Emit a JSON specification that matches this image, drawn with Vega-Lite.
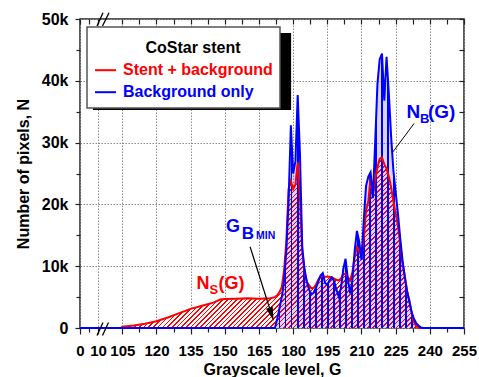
{
"$schema": "https://vega.github.io/schema/vega-lite/v6.json",
"width": 384, "height": 309,
"autosize": {"type": "none"},
"padding": {"left": 80, "top": 19, "right": 15, "bottom": 49},
"background": "white",
"config": {"font": "Liberation Sans", "view": {"stroke": "#222", "strokeWidth": 1.5}},
"datasets": {"d": [
{"G":100,"N":0,"s":"Stent + background"},{"G":105,"N":200,"s":"Stent + background"},{"G":110,"N":400,"s":"Stent + background"},{"G":115,"N":700,"s":"Stent + background"},{"G":120,"N":1100,"s":"Stent + background"},{"G":125,"N":1700,"s":"Stent + background"},{"G":130,"N":2400,"s":"Stent + background"},{"G":135,"N":3100,"s":"Stent + background"},{"G":140,"N":3600,"s":"Stent + background"},{"G":145,"N":4100,"s":"Stent + background"},{"G":148,"N":4600,"s":"Stent + background"},{"G":150,"N":4700,"s":"Stent + background"},{"G":155,"N":4750,"s":"Stent + background"},{"G":160,"N":4800,"s":"Stent + background"},{"G":165,"N":4750,"s":"Stent + background"},{"G":170,"N":4800,"s":"Stent + background"},{"G":172,"N":5000,"s":"Stent + background"},{"G":173,"N":5300,"s":"Stent + background"},{"G":174,"N":5800,"s":"Stent + background"},{"G":175,"N":6600,"s":"Stent + background"},{"G":176,"N":9300,"s":"Stent + background"},{"G":177,"N":14000,"s":"Stent + background"},{"G":178,"N":22500,"s":"Stent + background"},{"G":179,"N":23800,"s":"Stent + background"},{"G":180,"N":22500,"s":"Stent + background"},{"G":181,"N":23200,"s":"Stent + background"},{"G":182,"N":26800,"s":"Stent + background"},{"G":183,"N":21000,"s":"Stent + background"},{"G":184,"N":12500,"s":"Stent + background"},{"G":185,"N":9000,"s":"Stent + background"},{"G":186,"N":7500,"s":"Stent + background"},{"G":187,"N":6900,"s":"Stent + background"},{"G":188,"N":6400,"s":"Stent + background"},{"G":189,"N":6500,"s":"Stent + background"},{"G":190,"N":7000,"s":"Stent + background"},{"G":191,"N":7800,"s":"Stent + background"},{"G":192,"N":8300,"s":"Stent + background"},{"G":193,"N":8400,"s":"Stent + background"},{"G":194,"N":8300,"s":"Stent + background"},{"G":195,"N":8300,"s":"Stent + background"},{"G":196,"N":8300,"s":"Stent + background"},{"G":197,"N":8200,"s":"Stent + background"},{"G":198,"N":8000,"s":"Stent + background"},{"G":199,"N":7800,"s":"Stent + background"},{"G":200,"N":7700,"s":"Stent + background"},{"G":201,"N":8000,"s":"Stent + background"},{"G":202,"N":8700,"s":"Stent + background"},{"G":203,"N":8800,"s":"Stent + background"},{"G":204,"N":8200,"s":"Stent + background"},{"G":205,"N":7700,"s":"Stent + background"},{"G":206,"N":9000,"s":"Stent + background"},{"G":207,"N":11500,"s":"Stent + background"},{"G":208,"N":13100,"s":"Stent + background"},{"G":209,"N":12500,"s":"Stent + background"},{"G":210,"N":11600,"s":"Stent + background"},{"G":211,"N":14500,"s":"Stent + background"},{"G":212,"N":19000,"s":"Stent + background"},{"G":213,"N":20500,"s":"Stent + background"},{"G":214,"N":24500,"s":"Stent + background"},{"G":215,"N":21500,"s":"Stent + background"},{"G":216,"N":24000,"s":"Stent + background"},{"G":217,"N":26000,"s":"Stent + background"},{"G":218,"N":27400,"s":"Stent + background"},{"G":219,"N":27600,"s":"Stent + background"},{"G":220,"N":26500,"s":"Stent + background"},{"G":221,"N":25800,"s":"Stent + background"},{"G":222,"N":24500,"s":"Stent + background"},{"G":223,"N":22800,"s":"Stent + background"},{"G":224,"N":20500,"s":"Stent + background"},{"G":225,"N":18500,"s":"Stent + background"},{"G":226,"N":16500,"s":"Stent + background"},{"G":227,"N":13700,"s":"Stent + background"},{"G":228,"N":10500,"s":"Stent + background"},{"G":229,"N":8500,"s":"Stent + background"},{"G":230,"N":6000,"s":"Stent + background"},{"G":231,"N":4500,"s":"Stent + background"},{"G":232,"N":2500,"s":"Stent + background"},{"G":233,"N":1000,"s":"Stent + background"},{"G":234,"N":300,"s":"Stent + background"},{"G":235,"N":0,"s":"Stent + background"},{"G":255,"N":0,"s":"Stent + background"},
{"G":0,"N":0,"s":"Background only"},{"G":10,"N":0,"s":"Background only"},{"G":105,"N":0,"s":"Background only"},{"G":171,"N":0,"s":"Background only"},{"G":172,"N":0,"s":"Background only"},{"G":173,"N":1500,"s":"Background only"},{"G":174,"N":3200,"s":"Background only"},{"G":175,"N":5000,"s":"Background only"},{"G":176,"N":7500,"s":"Background only"},{"G":177,"N":12500,"s":"Background only"},{"G":178,"N":20700,"s":"Background only"},{"G":179,"N":32800,"s":"Background only"},{"G":180,"N":25000,"s":"Background only"},{"G":181,"N":27000,"s":"Background only"},{"G":182,"N":37700,"s":"Background only"},{"G":183,"N":28000,"s":"Background only"},{"G":184,"N":13000,"s":"Background only"},{"G":185,"N":9500,"s":"Background only"},{"G":186,"N":7500,"s":"Background only"},{"G":187,"N":6200,"s":"Background only"},{"G":188,"N":5500,"s":"Background only"},{"G":189,"N":5700,"s":"Background only"},{"G":190,"N":6500,"s":"Background only"},{"G":191,"N":7500,"s":"Background only"},{"G":192,"N":8500,"s":"Background only"},{"G":193,"N":8900,"s":"Background only"},{"G":194,"N":7300,"s":"Background only"},{"G":195,"N":7000,"s":"Background only"},{"G":196,"N":7800,"s":"Background only"},{"G":197,"N":8200,"s":"Background only"},{"G":198,"N":7600,"s":"Background only"},{"G":199,"N":6200,"s":"Background only"},{"G":200,"N":5100,"s":"Background only"},{"G":201,"N":6500,"s":"Background only"},{"G":202,"N":9500,"s":"Background only"},{"G":203,"N":11200,"s":"Background only"},{"G":204,"N":8000,"s":"Background only"},{"G":205,"N":5600,"s":"Background only"},{"G":206,"N":7800,"s":"Background only"},{"G":207,"N":12500,"s":"Background only"},{"G":208,"N":15700,"s":"Background only"},{"G":209,"N":14000,"s":"Background only"},{"G":210,"N":11000,"s":"Background only"},{"G":211,"N":17500,"s":"Background only"},{"G":212,"N":23000,"s":"Background only"},{"G":213,"N":24500,"s":"Background only"},{"G":214,"N":25200,"s":"Background only"},{"G":215,"N":21000,"s":"Background only"},{"G":216,"N":30000,"s":"Background only"},{"G":217,"N":39500,"s":"Background only"},{"G":218,"N":43500,"s":"Background only"},{"G":219,"N":44400,"s":"Background only"},{"G":220,"N":36800,"s":"Background only"},{"G":221,"N":43900,"s":"Background only"},{"G":222,"N":38000,"s":"Background only"},{"G":223,"N":31000,"s":"Background only"},{"G":224,"N":25500,"s":"Background only"},{"G":225,"N":22000,"s":"Background only"},{"G":226,"N":18500,"s":"Background only"},{"G":227,"N":14500,"s":"Background only"},{"G":228,"N":11000,"s":"Background only"},{"G":229,"N":8200,"s":"Background only"},{"G":230,"N":6000,"s":"Background only"},{"G":231,"N":4300,"s":"Background only"},{"G":232,"N":2600,"s":"Background only"},{"G":233,"N":1500,"s":"Background only"},{"G":234,"N":800,"s":"Background only"},{"G":235,"N":400,"s":"Background only"},{"G":236,"N":100,"s":"Background only"},{"G":237,"N":0,"s":"Background only"},{"G":255,"N":0,"s":"Background only"}
]},
"resolve": {"axis": {"x": "independent", "y": "independent"}},
"layer": [
{"data": {"name": "d"},
 "transform": [{"filter": "datum.s === 'Stent + background' && datum.G >= 100 && datum.G <= 235"}],
 "mark": {"type": "area", "opacity": 1, "interpolate": "linear", "fill": {"gradient": "linear", "x1": 0, "y1": 0, "x2": 1.184, "y2": 0.679, "stops": [
{"offset":0,"color":"#ff0000"},{"offset":0.0035,"color":"#ff0000"},{"offset":0.0035,"color":"#ffffff"},{"offset":0.01,"color":"#ffffff"},
{"offset":0.01,"color":"#ff0000"},{"offset":0.0135,"color":"#ff0000"},{"offset":0.0135,"color":"#ffffff"},{"offset":0.02,"color":"#ffffff"},
{"offset":0.02,"color":"#ff0000"},{"offset":0.0235,"color":"#ff0000"},{"offset":0.0235,"color":"#ffffff"},{"offset":0.03,"color":"#ffffff"},
{"offset":0.03,"color":"#ff0000"},{"offset":0.0335,"color":"#ff0000"},{"offset":0.0335,"color":"#ffffff"},{"offset":0.04,"color":"#ffffff"},
{"offset":0.04,"color":"#ff0000"},{"offset":0.0435,"color":"#ff0000"},{"offset":0.0435,"color":"#ffffff"},{"offset":0.05,"color":"#ffffff"},
{"offset":0.05,"color":"#ff0000"},{"offset":0.0535,"color":"#ff0000"},{"offset":0.0535,"color":"#ffffff"},{"offset":0.06,"color":"#ffffff"},
{"offset":0.06,"color":"#ff0000"},{"offset":0.0635,"color":"#ff0000"},{"offset":0.0635,"color":"#ffffff"},{"offset":0.07,"color":"#ffffff"},
{"offset":0.07,"color":"#ff0000"},{"offset":0.0735,"color":"#ff0000"},{"offset":0.0735,"color":"#ffffff"},{"offset":0.08,"color":"#ffffff"},
{"offset":0.08,"color":"#ff0000"},{"offset":0.0835,"color":"#ff0000"},{"offset":0.0835,"color":"#ffffff"},{"offset":0.09,"color":"#ffffff"},
{"offset":0.09,"color":"#ff0000"},{"offset":0.0935,"color":"#ff0000"},{"offset":0.0935,"color":"#ffffff"},{"offset":0.1,"color":"#ffffff"},
{"offset":0.1,"color":"#ff0000"},{"offset":0.1035,"color":"#ff0000"},{"offset":0.1035,"color":"#ffffff"},{"offset":0.11,"color":"#ffffff"},
{"offset":0.11,"color":"#ff0000"},{"offset":0.1135,"color":"#ff0000"},{"offset":0.1135,"color":"#ffffff"},{"offset":0.12,"color":"#ffffff"},
{"offset":0.12,"color":"#ff0000"},{"offset":0.1235,"color":"#ff0000"},{"offset":0.1235,"color":"#ffffff"},{"offset":0.13,"color":"#ffffff"},
{"offset":0.13,"color":"#ff0000"},{"offset":0.1335,"color":"#ff0000"},{"offset":0.1335,"color":"#ffffff"},{"offset":0.14,"color":"#ffffff"},
{"offset":0.14,"color":"#ff0000"},{"offset":0.1435,"color":"#ff0000"},{"offset":0.1435,"color":"#ffffff"},{"offset":0.15,"color":"#ffffff"},
{"offset":0.15,"color":"#ff0000"},{"offset":0.1535,"color":"#ff0000"},{"offset":0.1535,"color":"#ffffff"},{"offset":0.16,"color":"#ffffff"},
{"offset":0.16,"color":"#ff0000"},{"offset":0.1635,"color":"#ff0000"},{"offset":0.1635,"color":"#ffffff"},{"offset":0.17,"color":"#ffffff"},
{"offset":0.17,"color":"#ff0000"},{"offset":0.1735,"color":"#ff0000"},{"offset":0.1735,"color":"#ffffff"},{"offset":0.18,"color":"#ffffff"},
{"offset":0.18,"color":"#ff0000"},{"offset":0.1835,"color":"#ff0000"},{"offset":0.1835,"color":"#ffffff"},{"offset":0.19,"color":"#ffffff"},
{"offset":0.19,"color":"#ff0000"},{"offset":0.1935,"color":"#ff0000"},{"offset":0.1935,"color":"#ffffff"},{"offset":0.2,"color":"#ffffff"},
{"offset":0.2,"color":"#ff0000"},{"offset":0.2035,"color":"#ff0000"},{"offset":0.2035,"color":"#ffffff"},{"offset":0.21,"color":"#ffffff"},
{"offset":0.21,"color":"#ff0000"},{"offset":0.2135,"color":"#ff0000"},{"offset":0.2135,"color":"#ffffff"},{"offset":0.22,"color":"#ffffff"},
{"offset":0.22,"color":"#ff0000"},{"offset":0.2235,"color":"#ff0000"},{"offset":0.2235,"color":"#ffffff"},{"offset":0.23,"color":"#ffffff"},
{"offset":0.23,"color":"#ff0000"},{"offset":0.2335,"color":"#ff0000"},{"offset":0.2335,"color":"#ffffff"},{"offset":0.24,"color":"#ffffff"},
{"offset":0.24,"color":"#ff0000"},{"offset":0.2435,"color":"#ff0000"},{"offset":0.2435,"color":"#ffffff"},{"offset":0.25,"color":"#ffffff"},
{"offset":0.25,"color":"#ff0000"},{"offset":0.2535,"color":"#ff0000"},{"offset":0.2535,"color":"#ffffff"},{"offset":0.26,"color":"#ffffff"},
{"offset":0.26,"color":"#ff0000"},{"offset":0.2635,"color":"#ff0000"},{"offset":0.2635,"color":"#ffffff"},{"offset":0.27,"color":"#ffffff"},
{"offset":0.27,"color":"#ff0000"},{"offset":0.2735,"color":"#ff0000"},{"offset":0.2735,"color":"#ffffff"},{"offset":0.28,"color":"#ffffff"},
{"offset":0.28,"color":"#ff0000"},{"offset":0.2835,"color":"#ff0000"},{"offset":0.2835,"color":"#ffffff"},{"offset":0.29,"color":"#ffffff"},
{"offset":0.29,"color":"#ff0000"},{"offset":0.2935,"color":"#ff0000"},{"offset":0.2935,"color":"#ffffff"},{"offset":0.3,"color":"#ffffff"},
{"offset":0.3,"color":"#ff0000"},{"offset":0.3035,"color":"#ff0000"},{"offset":0.3035,"color":"#ffffff"},{"offset":0.31,"color":"#ffffff"},
{"offset":0.31,"color":"#ff0000"},{"offset":0.3135,"color":"#ff0000"},{"offset":0.3135,"color":"#ffffff"},{"offset":0.32,"color":"#ffffff"},
{"offset":0.32,"color":"#ff0000"},{"offset":0.3235,"color":"#ff0000"},{"offset":0.3235,"color":"#ffffff"},{"offset":0.33,"color":"#ffffff"},
{"offset":0.33,"color":"#ff0000"},{"offset":0.3335,"color":"#ff0000"},{"offset":0.3335,"color":"#ffffff"},{"offset":0.34,"color":"#ffffff"},
{"offset":0.34,"color":"#ff0000"},{"offset":0.3435,"color":"#ff0000"},{"offset":0.3435,"color":"#ffffff"},{"offset":0.35,"color":"#ffffff"},
{"offset":0.35,"color":"#ff0000"},{"offset":0.3535,"color":"#ff0000"},{"offset":0.3535,"color":"#ffffff"},{"offset":0.36,"color":"#ffffff"},
{"offset":0.36,"color":"#ff0000"},{"offset":0.3635,"color":"#ff0000"},{"offset":0.3635,"color":"#ffffff"},{"offset":0.37,"color":"#ffffff"},
{"offset":0.37,"color":"#ff0000"},{"offset":0.3735,"color":"#ff0000"},{"offset":0.3735,"color":"#ffffff"},{"offset":0.38,"color":"#ffffff"},
{"offset":0.38,"color":"#ff0000"},{"offset":0.3835,"color":"#ff0000"},{"offset":0.3835,"color":"#ffffff"},{"offset":0.39,"color":"#ffffff"},
{"offset":0.39,"color":"#ff0000"},{"offset":0.3935,"color":"#ff0000"},{"offset":0.3935,"color":"#ffffff"},{"offset":0.4,"color":"#ffffff"},
{"offset":0.4,"color":"#ff0000"},{"offset":0.4035,"color":"#ff0000"},{"offset":0.4035,"color":"#ffffff"},{"offset":0.41,"color":"#ffffff"},
{"offset":0.41,"color":"#ff0000"},{"offset":0.4135,"color":"#ff0000"},{"offset":0.4135,"color":"#ffffff"},{"offset":0.42,"color":"#ffffff"},
{"offset":0.42,"color":"#ff0000"},{"offset":0.4235,"color":"#ff0000"},{"offset":0.4235,"color":"#ffffff"},{"offset":0.43,"color":"#ffffff"},
{"offset":0.43,"color":"#ff0000"},{"offset":0.4335,"color":"#ff0000"},{"offset":0.4335,"color":"#ffffff"},{"offset":0.44,"color":"#ffffff"},
{"offset":0.44,"color":"#ff0000"},{"offset":0.4435,"color":"#ff0000"},{"offset":0.4435,"color":"#ffffff"},{"offset":0.45,"color":"#ffffff"},
{"offset":0.45,"color":"#ff0000"},{"offset":0.4535,"color":"#ff0000"},{"offset":0.4535,"color":"#ffffff"},{"offset":0.46,"color":"#ffffff"},
{"offset":0.46,"color":"#ff0000"},{"offset":0.4635,"color":"#ff0000"},{"offset":0.4635,"color":"#ffffff"},{"offset":0.47,"color":"#ffffff"},
{"offset":0.47,"color":"#ff0000"},{"offset":0.4735,"color":"#ff0000"},{"offset":0.4735,"color":"#ffffff"},{"offset":0.48,"color":"#ffffff"},
{"offset":0.48,"color":"#ff0000"},{"offset":0.4835,"color":"#ff0000"},{"offset":0.4835,"color":"#ffffff"},{"offset":0.49,"color":"#ffffff"},
{"offset":0.49,"color":"#ff0000"},{"offset":0.4935,"color":"#ff0000"},{"offset":0.4935,"color":"#ffffff"},{"offset":0.5,"color":"#ffffff"},
{"offset":0.5,"color":"#ff0000"},{"offset":0.5035,"color":"#ff0000"},{"offset":0.5035,"color":"#ffffff"},{"offset":0.51,"color":"#ffffff"},
{"offset":0.51,"color":"#ff0000"},{"offset":0.5135,"color":"#ff0000"},{"offset":0.5135,"color":"#ffffff"},{"offset":0.52,"color":"#ffffff"},
{"offset":0.52,"color":"#ff0000"},{"offset":0.5235,"color":"#ff0000"},{"offset":0.5235,"color":"#ffffff"},{"offset":0.53,"color":"#ffffff"},
{"offset":0.53,"color":"#ff0000"},{"offset":0.5335,"color":"#ff0000"},{"offset":0.5335,"color":"#ffffff"},{"offset":0.54,"color":"#ffffff"},
{"offset":0.54,"color":"#ff0000"},{"offset":0.5435,"color":"#ff0000"},{"offset":0.5435,"color":"#ffffff"},{"offset":0.55,"color":"#ffffff"},
{"offset":0.55,"color":"#ff0000"},{"offset":0.5535,"color":"#ff0000"},{"offset":0.5535,"color":"#ffffff"},{"offset":0.56,"color":"#ffffff"},
{"offset":0.56,"color":"#ff0000"},{"offset":0.5635,"color":"#ff0000"},{"offset":0.5635,"color":"#ffffff"},{"offset":0.57,"color":"#ffffff"},
{"offset":0.57,"color":"#ff0000"},{"offset":0.5735,"color":"#ff0000"},{"offset":0.5735,"color":"#ffffff"},{"offset":0.58,"color":"#ffffff"},
{"offset":0.58,"color":"#ff0000"},{"offset":0.5835,"color":"#ff0000"},{"offset":0.5835,"color":"#ffffff"},{"offset":0.59,"color":"#ffffff"},
{"offset":0.59,"color":"#ff0000"},{"offset":0.5935,"color":"#ff0000"},{"offset":0.5935,"color":"#ffffff"},{"offset":0.6,"color":"#ffffff"},
{"offset":0.6,"color":"#ff0000"},{"offset":0.6035,"color":"#ff0000"},{"offset":0.6035,"color":"#ffffff"},{"offset":0.61,"color":"#ffffff"},
{"offset":0.61,"color":"#ff0000"},{"offset":0.6135,"color":"#ff0000"},{"offset":0.6135,"color":"#ffffff"},{"offset":0.62,"color":"#ffffff"},
{"offset":0.62,"color":"#ff0000"},{"offset":0.6235,"color":"#ff0000"},{"offset":0.6235,"color":"#ffffff"},{"offset":0.63,"color":"#ffffff"},
{"offset":0.63,"color":"#ff0000"},{"offset":0.6335,"color":"#ff0000"},{"offset":0.6335,"color":"#ffffff"},{"offset":0.64,"color":"#ffffff"},
{"offset":0.64,"color":"#ff0000"},{"offset":0.6435,"color":"#ff0000"},{"offset":0.6435,"color":"#ffffff"},{"offset":0.65,"color":"#ffffff"},
{"offset":0.65,"color":"#ff0000"},{"offset":0.6535,"color":"#ff0000"},{"offset":0.6535,"color":"#ffffff"},{"offset":0.66,"color":"#ffffff"},
{"offset":0.66,"color":"#ff0000"},{"offset":0.6635,"color":"#ff0000"},{"offset":0.6635,"color":"#ffffff"},{"offset":0.67,"color":"#ffffff"},
{"offset":0.67,"color":"#ff0000"},{"offset":0.6735,"color":"#ff0000"},{"offset":0.6735,"color":"#ffffff"},{"offset":0.68,"color":"#ffffff"},
{"offset":0.68,"color":"#ff0000"},{"offset":0.6835,"color":"#ff0000"},{"offset":0.6835,"color":"#ffffff"},{"offset":0.69,"color":"#ffffff"},
{"offset":0.69,"color":"#ff0000"},{"offset":0.6935,"color":"#ff0000"},{"offset":0.6935,"color":"#ffffff"},{"offset":0.7,"color":"#ffffff"},
{"offset":0.7,"color":"#ff0000"},{"offset":0.7035,"color":"#ff0000"},{"offset":0.7035,"color":"#ffffff"},{"offset":0.71,"color":"#ffffff"},
{"offset":0.71,"color":"#ff0000"},{"offset":0.7135,"color":"#ff0000"},{"offset":0.7135,"color":"#ffffff"},{"offset":0.72,"color":"#ffffff"},
{"offset":0.72,"color":"#ff0000"},{"offset":0.7235,"color":"#ff0000"},{"offset":0.7235,"color":"#ffffff"},{"offset":0.73,"color":"#ffffff"},
{"offset":0.73,"color":"#ff0000"},{"offset":0.7335,"color":"#ff0000"},{"offset":0.7335,"color":"#ffffff"},{"offset":0.74,"color":"#ffffff"},
{"offset":0.74,"color":"#ff0000"},{"offset":0.7435,"color":"#ff0000"},{"offset":0.7435,"color":"#ffffff"},{"offset":0.75,"color":"#ffffff"},
{"offset":0.75,"color":"#ff0000"},{"offset":0.7535,"color":"#ff0000"},{"offset":0.7535,"color":"#ffffff"},{"offset":0.76,"color":"#ffffff"},
{"offset":0.76,"color":"#ff0000"},{"offset":0.7635,"color":"#ff0000"},{"offset":0.7635,"color":"#ffffff"},{"offset":0.77,"color":"#ffffff"},
{"offset":0.77,"color":"#ff0000"},{"offset":0.7735,"color":"#ff0000"},{"offset":0.7735,"color":"#ffffff"},{"offset":0.78,"color":"#ffffff"},
{"offset":0.78,"color":"#ff0000"},{"offset":0.7835,"color":"#ff0000"},{"offset":0.7835,"color":"#ffffff"},{"offset":0.79,"color":"#ffffff"},
{"offset":0.79,"color":"#ff0000"},{"offset":0.7935,"color":"#ff0000"},{"offset":0.7935,"color":"#ffffff"},{"offset":0.8,"color":"#ffffff"},
{"offset":0.8,"color":"#ff0000"},{"offset":0.8035,"color":"#ff0000"},{"offset":0.8035,"color":"#ffffff"},{"offset":0.81,"color":"#ffffff"},
{"offset":0.81,"color":"#ff0000"},{"offset":0.8135,"color":"#ff0000"},{"offset":0.8135,"color":"#ffffff"},{"offset":0.82,"color":"#ffffff"},
{"offset":0.82,"color":"#ff0000"},{"offset":0.8235,"color":"#ff0000"},{"offset":0.8235,"color":"#ffffff"},{"offset":0.83,"color":"#ffffff"},
{"offset":0.83,"color":"#ff0000"},{"offset":0.8335,"color":"#ff0000"},{"offset":0.8335,"color":"#ffffff"},{"offset":0.84,"color":"#ffffff"},
{"offset":0.84,"color":"#ff0000"},{"offset":0.8435,"color":"#ff0000"},{"offset":0.8435,"color":"#ffffff"},{"offset":0.85,"color":"#ffffff"},
{"offset":0.85,"color":"#ff0000"},{"offset":0.8535,"color":"#ff0000"},{"offset":0.8535,"color":"#ffffff"},{"offset":0.86,"color":"#ffffff"},
{"offset":0.86,"color":"#ff0000"},{"offset":0.8635,"color":"#ff0000"},{"offset":0.8635,"color":"#ffffff"},{"offset":0.87,"color":"#ffffff"},
{"offset":0.87,"color":"#ff0000"},{"offset":0.8735,"color":"#ff0000"},{"offset":0.8735,"color":"#ffffff"},{"offset":0.88,"color":"#ffffff"},
{"offset":0.88,"color":"#ff0000"},{"offset":0.8835,"color":"#ff0000"},{"offset":0.8835,"color":"#ffffff"},{"offset":0.89,"color":"#ffffff"},
{"offset":0.89,"color":"#ff0000"},{"offset":0.8935,"color":"#ff0000"},{"offset":0.8935,"color":"#ffffff"},{"offset":0.9,"color":"#ffffff"},
{"offset":0.9,"color":"#ff0000"},{"offset":0.9035,"color":"#ff0000"},{"offset":0.9035,"color":"#ffffff"},{"offset":0.91,"color":"#ffffff"},
{"offset":0.91,"color":"#ff0000"},{"offset":0.9135,"color":"#ff0000"},{"offset":0.9135,"color":"#ffffff"},{"offset":0.92,"color":"#ffffff"},
{"offset":0.92,"color":"#ff0000"},{"offset":0.9235,"color":"#ff0000"},{"offset":0.9235,"color":"#ffffff"},{"offset":0.93,"color":"#ffffff"},
{"offset":0.93,"color":"#ff0000"},{"offset":0.9335,"color":"#ff0000"},{"offset":0.9335,"color":"#ffffff"},{"offset":0.94,"color":"#ffffff"},
{"offset":0.94,"color":"#ff0000"},{"offset":0.9435,"color":"#ff0000"},{"offset":0.9435,"color":"#ffffff"},{"offset":0.95,"color":"#ffffff"},
{"offset":0.95,"color":"#ff0000"},{"offset":0.9535,"color":"#ff0000"},{"offset":0.9535,"color":"#ffffff"},{"offset":0.96,"color":"#ffffff"},
{"offset":0.96,"color":"#ff0000"},{"offset":0.9635,"color":"#ff0000"},{"offset":0.9635,"color":"#ffffff"},{"offset":0.97,"color":"#ffffff"},
{"offset":0.97,"color":"#ff0000"},{"offset":0.9735,"color":"#ff0000"},{"offset":0.9735,"color":"#ffffff"},{"offset":0.98,"color":"#ffffff"},
{"offset":0.98,"color":"#ff0000"},{"offset":0.9835,"color":"#ff0000"},{"offset":0.9835,"color":"#ffffff"},{"offset":0.99,"color":"#ffffff"},
{"offset":0.99,"color":"#ff0000"},{"offset":0.9935,"color":"#ff0000"},{"offset":0.9935,"color":"#ffffff"},{"offset":1,"color":"#ffffff"}
 ]}},
 "encoding": {
  "x": {"field": "G", "type": "quantitative", "scale": {"domain": [0, 10, 105, 255], "range": [0, 18, 42.3, 384], "nice": false, "zero": false},
   "axis": {"orient": "bottom", "values": [0,10,105,120,135,150,165,180,195,210,225,240,255], "format": "d", "title": "Grayscale level, G", "titleFontSize": 16, "titleFontWeight": "bold", "titleColor": "black", "titlePadding": 3, "labelFontSize": 15, "labelFontWeight": "bold", "labelColor": "black", "labelPadding": 9, "labelOverlap": false, "labelFlush": false, "labelBound": false, "tickSize": 6, "tickColor": "#222", "tickWidth": 1.2, "domain": false, "grid": true, "gridColor": "#8a8a8a", "gridDash": [1.5, 1.5], "gridWidth": 1}},
  "y": {"field": "N", "type": "quantitative", "stack": null, "scale": {"domain": [0, 50000], "nice": false},
   "axis": {"orient": "left", "values": [0,10000,20000,30000,40000,50000], "labelExpr": "datum.value === 0 ? '0' : (datum.value / 1000) + 'k'", "title": "Number of pixels, N", "titleFontSize": 16, "titleFontWeight": "bold", "titleColor": "black", "titlePadding": 10, "labelFontSize": 16, "labelFontWeight": "bold", "labelColor": "black", "labelPadding": 7, "labelFlush": false, "tickSize": 5, "tickColor": "#222", "tickWidth": 1.2, "domain": false, "grid": true, "gridColor": "#8a8a8a", "gridDash": [1.5, 1.5], "gridWidth": 1}}
 }},
{"data": {"name": "d"},
 "transform": [{"filter": "datum.s === 'Background only' && datum.G >= 171 && datum.G <= 237"}],
 "mark": {"type": "area", "opacity": 1, "interpolate": "linear", "fill": {"gradient": "linear", "x1": 0, "y1": 0, "x2": 1, "y2": 0, "stops": [
{"offset":0,"color":"#0000ff"},{"offset":0.012,"color":"#0000ff"},{"offset":0.012,"color":"rgba(60,40,230,0.2)"},{"offset":0.04,"color":"rgba(60,40,230,0.2)"},
{"offset":0.04,"color":"#0000ff"},{"offset":0.052,"color":"#0000ff"},{"offset":0.052,"color":"rgba(60,40,230,0.2)"},{"offset":0.08,"color":"rgba(60,40,230,0.2)"},
{"offset":0.08,"color":"#0000ff"},{"offset":0.092,"color":"#0000ff"},{"offset":0.092,"color":"rgba(60,40,230,0.2)"},{"offset":0.12,"color":"rgba(60,40,230,0.2)"},
{"offset":0.12,"color":"#0000ff"},{"offset":0.132,"color":"#0000ff"},{"offset":0.132,"color":"rgba(60,40,230,0.2)"},{"offset":0.16,"color":"rgba(60,40,230,0.2)"},
{"offset":0.16,"color":"#0000ff"},{"offset":0.172,"color":"#0000ff"},{"offset":0.172,"color":"rgba(60,40,230,0.2)"},{"offset":0.2,"color":"rgba(60,40,230,0.2)"},
{"offset":0.2,"color":"#0000ff"},{"offset":0.212,"color":"#0000ff"},{"offset":0.212,"color":"rgba(60,40,230,0.2)"},{"offset":0.24,"color":"rgba(60,40,230,0.2)"},
{"offset":0.24,"color":"#0000ff"},{"offset":0.252,"color":"#0000ff"},{"offset":0.252,"color":"rgba(60,40,230,0.2)"},{"offset":0.28,"color":"rgba(60,40,230,0.2)"},
{"offset":0.28,"color":"#0000ff"},{"offset":0.292,"color":"#0000ff"},{"offset":0.292,"color":"rgba(60,40,230,0.2)"},{"offset":0.32,"color":"rgba(60,40,230,0.2)"},
{"offset":0.32,"color":"#0000ff"},{"offset":0.332,"color":"#0000ff"},{"offset":0.332,"color":"rgba(60,40,230,0.2)"},{"offset":0.36,"color":"rgba(60,40,230,0.2)"},
{"offset":0.36,"color":"#0000ff"},{"offset":0.372,"color":"#0000ff"},{"offset":0.372,"color":"rgba(60,40,230,0.2)"},{"offset":0.4,"color":"rgba(60,40,230,0.2)"},
{"offset":0.4,"color":"#0000ff"},{"offset":0.412,"color":"#0000ff"},{"offset":0.412,"color":"rgba(60,40,230,0.2)"},{"offset":0.44,"color":"rgba(60,40,230,0.2)"},
{"offset":0.44,"color":"#0000ff"},{"offset":0.452,"color":"#0000ff"},{"offset":0.452,"color":"rgba(60,40,230,0.2)"},{"offset":0.48,"color":"rgba(60,40,230,0.2)"},
{"offset":0.48,"color":"#0000ff"},{"offset":0.492,"color":"#0000ff"},{"offset":0.492,"color":"rgba(60,40,230,0.2)"},{"offset":0.52,"color":"rgba(60,40,230,0.2)"},
{"offset":0.52,"color":"#0000ff"},{"offset":0.532,"color":"#0000ff"},{"offset":0.532,"color":"rgba(60,40,230,0.2)"},{"offset":0.56,"color":"rgba(60,40,230,0.2)"},
{"offset":0.56,"color":"#0000ff"},{"offset":0.572,"color":"#0000ff"},{"offset":0.572,"color":"rgba(60,40,230,0.2)"},{"offset":0.6,"color":"rgba(60,40,230,0.2)"},
{"offset":0.6,"color":"#0000ff"},{"offset":0.612,"color":"#0000ff"},{"offset":0.612,"color":"rgba(60,40,230,0.2)"},{"offset":0.64,"color":"rgba(60,40,230,0.2)"},
{"offset":0.64,"color":"#0000ff"},{"offset":0.652,"color":"#0000ff"},{"offset":0.652,"color":"rgba(60,40,230,0.2)"},{"offset":0.68,"color":"rgba(60,40,230,0.2)"},
{"offset":0.68,"color":"#0000ff"},{"offset":0.692,"color":"#0000ff"},{"offset":0.692,"color":"rgba(60,40,230,0.2)"},{"offset":0.72,"color":"rgba(60,40,230,0.2)"},
{"offset":0.72,"color":"#0000ff"},{"offset":0.732,"color":"#0000ff"},{"offset":0.732,"color":"rgba(60,40,230,0.2)"},{"offset":0.76,"color":"rgba(60,40,230,0.2)"},
{"offset":0.76,"color":"#0000ff"},{"offset":0.772,"color":"#0000ff"},{"offset":0.772,"color":"rgba(60,40,230,0.2)"},{"offset":0.8,"color":"rgba(60,40,230,0.2)"},
{"offset":0.8,"color":"#0000ff"},{"offset":0.812,"color":"#0000ff"},{"offset":0.812,"color":"rgba(60,40,230,0.2)"},{"offset":0.84,"color":"rgba(60,40,230,0.2)"},
{"offset":0.84,"color":"#0000ff"},{"offset":0.852,"color":"#0000ff"},{"offset":0.852,"color":"rgba(60,40,230,0.2)"},{"offset":0.88,"color":"rgba(60,40,230,0.2)"},
{"offset":0.88,"color":"#0000ff"},{"offset":0.892,"color":"#0000ff"},{"offset":0.892,"color":"rgba(60,40,230,0.2)"},{"offset":0.92,"color":"rgba(60,40,230,0.2)"},
{"offset":0.92,"color":"#0000ff"},{"offset":0.932,"color":"#0000ff"},{"offset":0.932,"color":"rgba(60,40,230,0.2)"},{"offset":0.96,"color":"rgba(60,40,230,0.2)"},
{"offset":0.96,"color":"#0000ff"},{"offset":0.972,"color":"#0000ff"},{"offset":0.972,"color":"rgba(60,40,230,0.2)"},{"offset":1,"color":"rgba(60,40,230,0.2)"}
 ]}},
 "encoding": {
  "x": {"field": "G", "type": "quantitative", "axis": {"orient": "top", "values": [0,5,10,105,112.5,120,127.5,135,142.5,150,157.5,165,172.5,180,187.5,195,202.5,210,217.5,225,232.5,240,247.5,255], "tickSize": -5, "tickColor": "#222", "tickWidth": 1.2, "labels": false, "domain": false, "grid": false, "title": null}},
  "y": {"field": "N", "type": "quantitative", "stack": null, "axis": {"orient": "right", "values": [0,5000,10000,15000,20000,25000,30000,35000,40000,45000,50000], "tickSize": -5, "tickColor": "#222", "tickWidth": 1.2, "labels": false, "domain": false, "grid": false, "title": null}}
 }},
{"data": {"name": "d"},
 "mark": {"type": "line", "strokeWidth": 2, "interpolate": "linear"},
 "encoding": {
  "x": {"field": "G", "type": "quantitative", "axis": {"orient": "bottom", "values": [5,112.5,127.5,142.5,157.5,172.5,187.5,202.5,217.5,232.5,247.5], "tickSize": 4, "tickColor": "#222", "tickWidth": 1.2, "labels": false, "domain": false, "grid": false, "title": null}},
  "y": {"field": "N", "type": "quantitative", "axis": {"orient": "left", "values": [5000,15000,25000,35000,45000], "tickSize": 4, "tickColor": "#222", "tickWidth": 1.2, "labels": false, "domain": false, "grid": false, "title": null}},
  "color": {"field": "s", "type": "nominal", "scale": {"domain": ["Stent + background", "Background only"], "range": ["#ff0000", "#0000ff"]},
   "legend": {"title": "CoStar stent", "orient": "none", "legendX": 7, "legendY": 8, "direction": "vertical", "symbolType": "stroke", "symbolSize": 441, "symbolStrokeWidth": 2, "labelFontSize": 16, "labelFontWeight": "bold", "titleFontSize": 16, "titleFontWeight": "bold", "titleColor": "black", "titleAnchor": "middle", "titlePadding": 8.7, "padding": 7, "labelOffset": 6, "rowPadding": 2, "strokeColor": "#555", "fillColor": "white", "labelExpr": "datum.label + '   '",
    "encode": {"labels": {"update": {"fill": {"signal": "datum.value === 'Stent + background' ? '#ff0000' : '#0000ff'"}}}, "title": {"update": {"dx": {"value": 10}, "dy": {"value": 6}}}, "legend": {"update": {"strokeWidth": {"value": 1.5}}}}}}
 }},
{"data": {"values": [{}]}, "mark": {"type": "rect", "color": "black"},
 "encoding": {"x": {"datum": 7.2, "axis": null}, "x2": {"datum": 179.1}, "y": {"datum": 47735, "axis": null}, "y2": {"datum": 35270}}},
{"data": {"values": [{}]}, "mark": {"type": "rule", "color": "black", "strokeWidth": 1.3},
 "encoding": {"x": {"datum": 9.44, "axis": null}, "x2": {"datum": 29.5}, "y": {"datum": -1213, "axis": null}, "y2": {"datum": 890}}},
{"data": {"values": [{}]}, "mark": {"type": "rule", "color": "black", "strokeWidth": 1.3},
 "encoding": {"x": {"datum": 27.6, "axis": null}, "x2": {"datum": 51.0}, "y": {"datum": -1213, "axis": null}, "y2": {"datum": 890}}},
{"data": {"values": [{}]}, "mark": {"type": "rule", "color": "black", "strokeWidth": 1.3},
 "encoding": {"x": {"datum": 9.44, "axis": null}, "x2": {"datum": 29.5}, "y": {"datum": 48864, "axis": null}, "y2": {"datum": 51016}}},
{"data": {"values": [{}]}, "mark": {"type": "rule", "color": "black", "strokeWidth": 1.3},
 "encoding": {"x": {"datum": 27.6, "axis": null}, "x2": {"datum": 53.0}, "y": {"datum": 48864, "axis": null}, "y2": {"datum": 51016}}},
{"data": {"values": [{}]}, "mark": {"type": "rule", "color": "black", "strokeWidth": 1},
 "encoding": {"x": {"datum": 233.1, "axis": null}, "x2": {"datum": 223.8}, "y": {"datum": 33100, "axis": null}, "y2": {"datum": 28500}}},
{"data": {"values": [{}]}, "mark": {"type": "rule", "color": "black", "strokeWidth": 1.2},
 "encoding": {"x": {"datum": 161.1, "axis": null}, "x2": {"datum": 170.5}, "y": {"datum": 13154, "axis": null}, "y2": {"datum": 2217}}},
{"data": {"values": [{}]}, "mark": {"type": "point", "shape": "M0,1L-0.5,-1L0.5,-1Z", "filled": true, "color": "black", "opacity": 1, "size": 196, "angle": 342},
 "encoding": {"x": {"datum": 170.5, "axis": null}, "y": {"datum": 2217, "axis": null}}},
{"data": {"values": [{}]}, "mark": {"type": "text", "text": "N", "align": "left", "baseline": "alphabetic", "fontSize": 18, "fontWeight": "bold", "color": "#ff0000"},
 "encoding": {"x": {"datum": 137.6, "axis": null}, "y": {"datum": 6310, "axis": null}}},
{"data": {"values": [{}]}, "mark": {"type": "text", "text": "S", "align": "left", "baseline": "alphabetic", "fontSize": 13, "fontWeight": "bold", "color": "#ff0000"},
 "encoding": {"x": {"datum": 143.3, "axis": null}, "y": {"datum": 5500, "axis": null}}},
{"data": {"values": [{}]}, "mark": {"type": "text", "text": "(G)", "align": "left", "baseline": "alphabetic", "fontSize": 18, "fontWeight": "bold", "color": "#ff0000"},
 "encoding": {"x": {"datum": 147.2, "axis": null}, "y": {"datum": 6310, "axis": null}}},
{"data": {"values": [{}]}, "mark": {"type": "text", "text": "N", "align": "left", "baseline": "alphabetic", "fontSize": 19, "fontWeight": "bold", "color": "#0000ff"},
 "encoding": {"x": {"datum": 229.8, "axis": null}, "y": {"datum": 33980, "axis": null}}},
{"data": {"values": [{}]}, "mark": {"type": "text", "text": "B", "align": "left", "baseline": "alphabetic", "fontSize": 13, "fontWeight": "bold", "color": "#0000ff"},
 "encoding": {"x": {"datum": 235.7, "axis": null}, "y": {"datum": 33170, "axis": null}}},
{"data": {"values": [{}]}, "mark": {"type": "text", "text": "(G)", "align": "left", "baseline": "alphabetic", "fontSize": 19, "fontWeight": "bold", "color": "#0000ff"},
 "encoding": {"x": {"datum": 239.2, "axis": null}, "y": {"datum": 33980, "axis": null}}},
{"data": {"values": [{}]}, "mark": {"type": "text", "text": "G", "align": "left", "baseline": "alphabetic", "fontSize": 18, "fontWeight": "bold", "color": "#0000ff"},
 "encoding": {"x": {"datum": 150.5, "axis": null}, "y": {"datum": 15533, "axis": null}}},
{"data": {"values": [{}]}, "mark": {"type": "text", "text": "B", "align": "left", "baseline": "alphabetic", "fontSize": 17, "fontWeight": "bold", "color": "#0000ff"},
 "encoding": {"x": {"datum": 157.4, "axis": null}, "y": {"datum": 14400, "axis": null}}},
{"data": {"values": [{}]}, "mark": {"type": "text", "text": "MIN", "align": "left", "baseline": "alphabetic", "fontSize": 10.5, "fontWeight": "bold", "color": "#0000ff"},
 "encoding": {"x": {"datum": 163.7, "axis": null}, "y": {"datum": 14350, "axis": null}}}
]
}
